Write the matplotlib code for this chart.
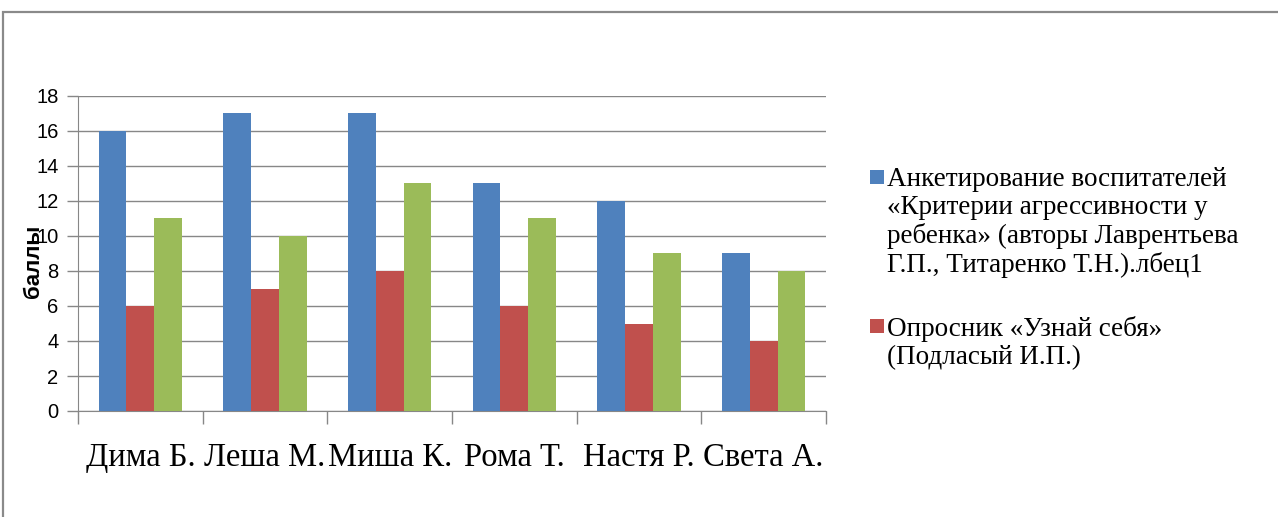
import matplotlib.pyplot as plt
from matplotlib.patches import Rectangle
import numpy as np

names = ["Дима Б.", "Леша М.", "Миша К.", "Рома Т.", "Настя Р.", "Света А."]
survey_teachers = [16, 17, 17, 13, 12, 9]
survey_self = [6, 7, 8, 6, 5, 4]
third_series = [11, 10, 13, 11, 9, 8]

legend_labels = [
    "Анкетирование воспитателей\n«Критерии агрессивности у\nребенка» (авторы Лаврентьева\nГ.П., Титаренко Т.Н.).лбец1",
    "Опросник «Узнай себя»\n(Подласый И.П.)",
]
colors = ["#4F81BD", "#C0504D", "#9BBB59"]
grid_col = "#878787"

W, H = 1278, 517
fig = plt.figure(figsize=(W / 100, H / 100), dpi=100)

# outer chart frame (runs off right and bottom edges)
fig.patches.append(Rectangle((3 / W, -0.1), 1.2, 1 - 12 / H + 0.1,
                             transform=fig.transFigure, fill=False,
                             edgecolor="#8a8a8a", linewidth=1.6))

ax = fig.add_axes([78 / W, 1 - 411 / H, (826 - 78) / W, (411 - 96) / H])

x = np.arange(len(names))
bw = 0.222
series = [survey_teachers, survey_self, third_series]
for i, vals in enumerate(series):
    ax.bar(x + (i - 1) * bw, vals, bw, color=colors[i], zorder=3)

ax.set_xlim(-0.5, len(names) - 0.5)
ax.set_ylim(0, 18)
ax.set_yticks(range(0, 19, 2))
ax.grid(axis="y", color=grid_col, linewidth=1.0, zorder=0)

ax.set_xticks(x)
ax.set_xticklabels(names, family="Liberation Serif", fontsize=23.5)
ax.tick_params(axis="x", length=0, pad=23)
# category boundary ticks
ax.set_xticks(np.arange(-0.5, len(names)), minor=True)
ax.tick_params(axis="x", which="minor", length=9, color=grid_col, width=1.0)

ax.tick_params(axis="y", length=8, color=grid_col, width=1.0, pad=6,
               labelsize=14.5)
for lb in ax.get_yticklabels():
    lb.set_family("Liberation Sans")

for side in ["top", "right"]:
    ax.spines[side].set_visible(False)
ax.spines["left"].set_color(grid_col)
ax.spines["bottom"].set_color(grid_col)
ax.spines["left"].set_zorder(4)

fig.text(33 / W, 1 - 261 / H, "баллы", rotation=90, ha="center", va="center",
         fontsize=16, fontweight="bold", family="Liberation Sans")

# legend drawn by hand: square + wrapped label
leg_y = [177, 326]
for i, lab in enumerate(legend_labels):
    cy = leg_y[i]
    fig.patches.append(Rectangle((870 / W, 1 - (cy + 7) / H), 14 / W, 14 / H,
                                 transform=fig.transFigure,
                                 facecolor=colors[i], edgecolor="none"))
    fig.text(887 / W, 1 - (cy - 10) / H, lab, ha="left", va="top",
             fontsize=19.5, family="Liberation Serif", linespacing=1.16)

fig.savefig("out.png", dpi=100)
